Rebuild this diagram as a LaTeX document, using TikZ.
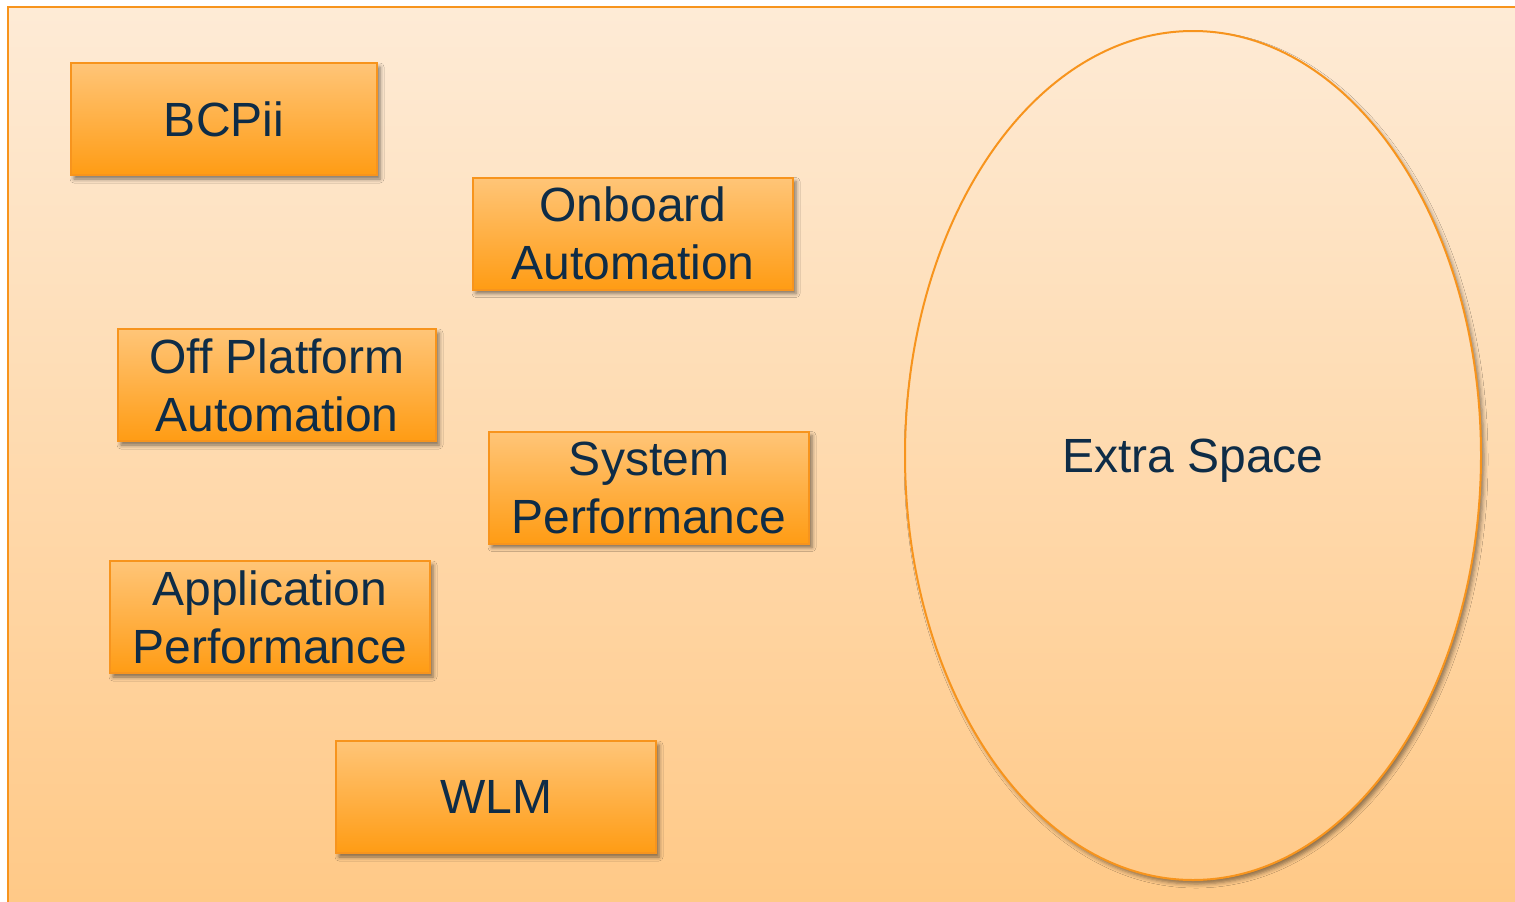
\documentclass[tikz,border=0pt]{standalone}
\usepackage{fontspec}
\setmainfont{Liberation Sans}
\usetikzlibrary{shapes.geometric,shadows.blur}

\definecolor{bgtop}{HTML}{FEEBD6}
\definecolor{bgbot}{HTML}{FFC987}
\definecolor{boxtop}{HTML}{FFC578}
\definecolor{boxbot}{HTML}{FF9C14}
\definecolor{edge}{HTML}{F7941D}
\definecolor{ink}{HTML}{0E2C47}

\tikzset{
  topic/.style={
    draw=edge, line width=2pt,
    top color=boxtop, bottom color=boxbot,
    minimum width=320pt, minimum height=112pt,
    inner sep=0pt, align=center, text=ink,
    font=\fontsize{48}{58}\selectfont,
    blur shadow={shadow xshift=3pt, shadow yshift=-4pt,
                 shadow blur radius=4pt, shadow opacity=50}
  },
  space/.style={
    ellipse, draw=edge, line width=2pt,
    top color=bgbot!2.7!bgtop, bottom color=bgbot!97.5!bgtop,
    minimum width=576pt, minimum height=849pt,
    inner sep=0pt, text=ink, text depth=0pt,
    font=\fontsize{48}{58}\selectfont,
    blur shadow={shadow xshift=3pt, shadow yshift=-4pt,
                 shadow blur radius=4pt, shadow opacity=45}
  }
}

\begin{document}
\begin{tikzpicture}[x=1pt, y=-1pt]
  \useasboundingbox (0,0) rectangle (1515,902);
  \fill[white] (0,0) rectangle (1515,902);

  % panel with vertical gradient
  \shade[top color=bgtop, bottom color=bgbot] (8,7) rectangle (1540,902);
  \draw[edge, line width=2pt] (1540,7) -- (8,7) -- (8,940);

  \node[topic, minimum width=306pt] (bcpii) at (224,119) {BCPii};
  \node[topic] (onboard) at (633,233.5) {Onboard\\Automation};
  \node[topic, minimum width=318pt] (offplat) at (277,385) {Off Platform\\Automation};
  \node[topic] (sysperf) at (649,487.5) {System\\Performance};
  \node[topic] (appperf) at (270,617) {Application\\Performance};
  \node[topic] (wlm) at (496,797) {WLM};

  \node[space] (extra) at (1193,455.5) {Extra Space};
\end{tikzpicture}
\end{document}
